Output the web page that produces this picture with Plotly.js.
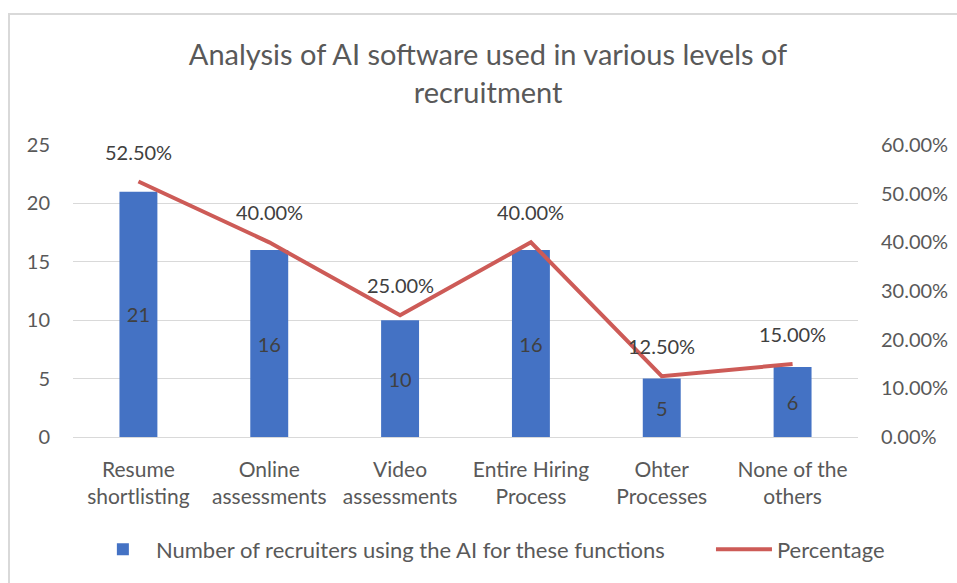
<!DOCTYPE html>
<html>
<head>
<meta charset="utf-8">
<script src="https://cdn.plot.ly/plotly-3.0.1.min.js"></script>
<style>
  html, body { margin: 0; padding: 0; background: #fff; overflow: hidden; }
  #wrap { position: relative; width: 957px; height: 583px; }
  #chart { position: absolute; left: 0; top: 0; width: 957px; height: 583px; }
  #frame { position: absolute; left: 8px; top: 13px; width: 960px; height: 600px;
           border-left: 2px solid #d9d9d9; border-top: 2px solid #d9d9d9; pointer-events: none; }
</style>
</head>
<body>
<div id="wrap">
  <div id="chart"></div>
  <div id="frame"></div>
</div>
<script>
const categories = ["Resume<br>shortlisting", "Online<br>assessments", "Video<br>assessments",
                    "Entire Hiring<br>Process", "Ohter<br>Processes", "None of the<br>others"];
const recruiters = [21, 16, 10, 16, 5, 6];
const percentage = [0.525, 0.40, 0.25, 0.40, 0.125, 0.15];
const leftTicks = [0, 5, 10, 15, 20, 25];
const rightTicks = [0, 0.1, 0.2, 0.3, 0.4, 0.5, 0.6];
const rightTickText = rightTicks.map(v => (v * 100).toFixed(2) + "%");

const FONT = "Lato, 'Open Sans', sans-serif";
const GREY = "#595959";

const barTrace = {
  type: "bar",
  name: "Number of recruiters using the AI for these functions",
  x: categories,
  y: recruiters,
  marker: { color: "#4472C4" },
  width: 0.29,
  text: recruiters.map(String),
  textposition: "inside",
  insidetextanchor: "middle",
  textangle: 0,
  textfont: { family: FONT, size: 20, color: "#404040" },
  hoverinfo: "skip",
  yaxis: "y",
  legend: "legend"
};

const lineTrace = {
  type: "scatter",
  mode: "lines",
  name: "Percentage",
  x: categories,
  y: percentage,
  line: { color: "#CD5B57", width: 4 },
  hoverinfo: "skip",
  yaxis: "y2",
  legend: "legend2"
};

const annotations = percentage.map((p, i) => ({
  x: categories[i], y: p, xref: "x", yref: "y2",
  text: (p * 100).toFixed(2) + "%",
  showarrow: false, yshift: 30, yanchor: "middle", xanchor: "center",
  font: { family: FONT, size: 20, color: "#404040" }
}));

const legendBase = {
  orientation: "h", xanchor: "left", y: -0.313, yanchor: "top",
  font: { family: FONT, size: 22, color: GREY },
  itemwidth: 56, bgcolor: "rgba(0,0,0,0)"
};

const layout = {
  width: 957, height: 583,
  margin: { l: 73, r: 99, t: 145, b: 146, pad: 0, autoexpand: false },
  paper_bgcolor: "rgba(0,0,0,0)",
  plot_bgcolor: "#fff",
  font: { family: FONT, size: 20, color: GREY },
  title: {
    text: "Analysis of AI software used in various levels of<br>recruitment",
    font: { family: FONT, size: 29, color: GREY },
    x: 0.51, xanchor: "center", y: 0.888, yanchor: "middle"
  },
  showlegend: true,
  legend: Object.assign({}, legendBase, { x: 0.0215 }),
  legend2: Object.assign({}, legendBase, { x: 0.8127 }),
  bargap: 0.71,
  xaxis: {
    type: "category",
    showgrid: false,
    showline: false,
    zeroline: false,
    ticks: "",
    ticklabelstandoff: 18,
    tickfont: { family: FONT, size: 21, color: GREY },
    fixedrange: true
  },
  yaxis: {
    range: [0, 25],
    tickvals: leftTicks,
    ticktext: leftTicks.map(String),
    showgrid: true, gridcolor: "#d9d9d9", gridwidth: 1,
    zeroline: true, zerolinecolor: "#d9d9d9", zerolinewidth: 1,
    showline: false, ticks: "",
    ticklabelstandoff: 22,
    tickfont: { family: FONT, size: 20, color: GREY }
  },
  yaxis2: {
    overlaying: "y", side: "right",
    range: [0, 0.6],
    tickvals: rightTicks,
    ticktext: rightTickText,
    showgrid: false, zeroline: false, showline: false, ticks: "",
    ticklabelstandoff: 22,
    tickfont: { family: FONT, size: 20, color: GREY }
  },
  annotations: annotations
};

Plotly.newPlot("chart", [barTrace, lineTrace], layout, { displayModeBar: false, staticPlot: true });
</script>
</body>
</html>
